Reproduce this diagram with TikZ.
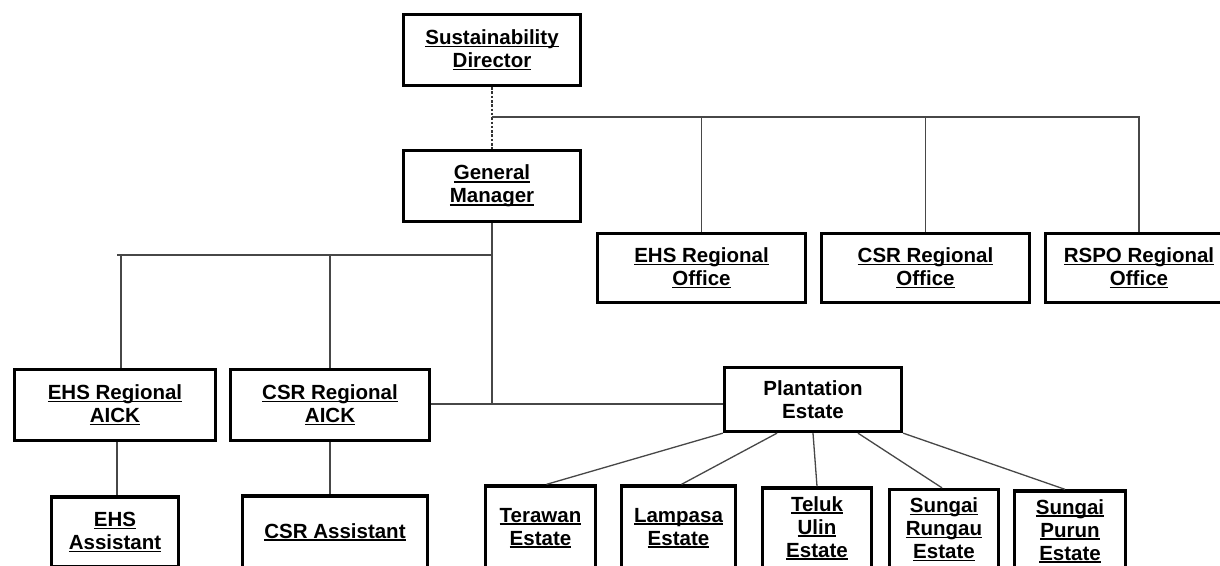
\documentclass[tikz,border=0pt]{standalone}
\usepackage{fontspec}
\setmainfont{Liberation Sans}
\newsavebox\ulbox
\newcommand{\ulx}[1]{\sbox\ulbox{#1}\rlap{\rule[-2.8pt]{\wd\ulbox}{1.5pt}}\usebox\ulbox}
\tikzset{
  box/.style={draw=black, line width=3.3pt, rectangle, inner sep=0pt, align=center,
    font=\fontsize{20.5}{23}\selectfont\bfseries},
  link/.style={draw=black!72, line width=1.3pt},
  dlink/.style={draw=black!80, line width=1.2pt, dash pattern=on 2.5pt off 1.8pt}
}
\begin{document}
\begin{tikzpicture}[x=1pt,y=-1pt]
\useasboundingbox (0,0) rectangle (1220,565);
\clip (0,0) rectangle (1220,565);
\fill[white] (0,0) rectangle (1220,565);

% top level
\node[box, minimum width=177, minimum height=71] (sd) at (492,50) {\ulx{Sustainability}\\\ulx{Director}};
\node[box, minimum width=177, minimum height=71] (gm) at (492,186) {\ulx{General}\\\ulx{Manager}};

% regional offices
\node[box, minimum width=208, minimum height=69] (ehsro) at (701.5,268) {\ulx{EHS Regional}\\\ulx{Office}};
\node[box, minimum width=208, minimum height=69] (csrro) at (925.5,268) {\ulx{CSR Regional}\\\ulx{Office}};
\node[box, minimum width=187, minimum height=69] (rspo) at (1139,268) {\ulx{RSPO Regional}\\\ulx{Office}};

% AICK
\node[box, minimum width=201, minimum height=71] (ehsaick) at (115,405) {\ulx{EHS Regional}\\\ulx{AICK}};
\node[box, minimum width=199, minimum height=71] (csraick) at (330,405) {\ulx{CSR Regional}\\\ulx{AICK}};

% plantation
\node[box, minimum width=177, minimum height=64] (plant) at (813,399.5) {Plantation\\Estate};

% assistants
\node[box, minimum width=127, minimum height=70] (ehsasst) at (115,532) {\ulx{EHS}\\\ulx{Assistant}};
\node[box, minimum width=185, minimum height=72] (csrasst) at (335,532) {\ulx{CSR Assistant}};

% estates
\node[box, minimum width=110, minimum height=84] (ter) at (540.5,528) {\ulx{Terawan}\\\ulx{Estate}};
\node[box, minimum width=114, minimum height=84] (lam) at (678.5,528) {\ulx{Lampasa}\\\ulx{Estate}};
\node[box, minimum width=109, minimum height=80] (tel) at (817,528) {\ulx{Teluk}\\\ulx{Ulin}\\\ulx{Estate}};
\node[box, minimum width=109, minimum height=80] (run) at (944,529.5) {\ulx{Sungai}\\\ulx{Rungau}\\\ulx{Estate}};
\node[box, minimum width=111, minimum height=80] (pur) at (1070,531) {\ulx{Sungai}\\\ulx{Purun}\\\ulx{Estate}};

% junctions
\coordinate (j1) at (492,117);
\coordinate (j2) at (492,404);
\coordinate (j3) at (492,255);
\coordinate (j4) at (117,255);

% connectors
\draw[dlink] (sd.south) -- (gm.north);
\draw[link] (j1) -| (rspo.north);
\draw[link] (ehsro.north) -- (ehsro.north |- j1);
\draw[link] (csrro.north) -- (csrro.north |- j1);

\draw[link] (gm.south) -- (j2);
\draw[link] (csraick.east |- j2) -- (plant.west |- j2);
\draw[link] (j3) -- (j4);
\draw[link] ([xshift=6pt]ehsaick.north) -- ([xshift=6pt]ehsaick.north |- j3);
\draw[link] (csraick.north) -- (csraick.north |- j3);

\draw[link] ([xshift=2pt]ehsaick.south) -- ([xshift=2pt]ehsasst.north);
\draw[link] (csraick.south) -- (csraick.south |- csrasst.north);

\draw[link] (plant.south west) -- ([xshift=6pt]ter.north);
\draw[link] ([xshift=-36pt]plant.south) -- ([xshift=3pt]lam.north);
\draw[link] (plant.south) -- (tel.north);
\draw[link] ([xshift=45pt]plant.south) -- ([xshift=-2pt]run.north);
\draw[link] (plant.south east) -- ([xshift=-5pt]pur.north);
\end{tikzpicture}
\end{document}
